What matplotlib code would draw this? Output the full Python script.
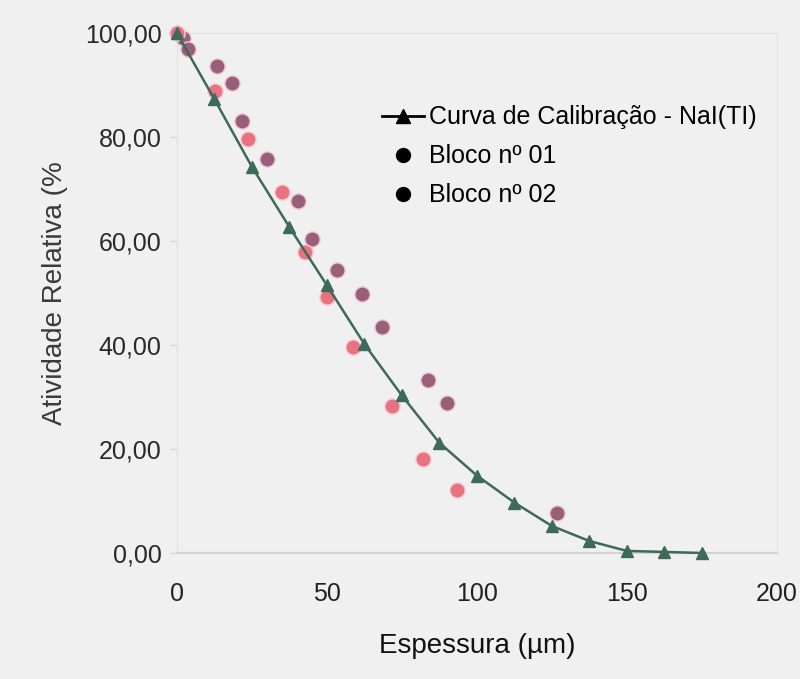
import matplotlib
matplotlib.use('Agg')
from matplotlib import pyplot as plt
from matplotlib.lines import Line2D

# Calibration curve (NaI(Tl))
curve_x = [0, 12.5, 25, 37.5, 50, 62.5, 75, 87.5, 100, 112.5, 125, 137.5, 150, 162.5, 175]
curve_y = [100.0, 87.3, 74.3, 62.7, 51.5, 40.2, 30.3, 21.2, 14.9, 9.7, 5.2, 2.3, 0.4, 0.2, 0.0]

# Block 01 (mauve dots)
b1_x = [0, 2, 3.7, 13.3, 18.3, 21.7, 30, 40.3, 45, 53.3, 61.7, 68.3, 83.7, 90, 126.7]
b1_y = [100.0, 99.0, 97.0, 93.6, 90.3, 83.0, 75.7, 67.6, 60.4, 54.4, 49.8, 43.4, 33.2, 28.8, 7.7]

# Block 02 (pink dots)
b2_x = [0, 12.7, 23.7, 35, 42.7, 50, 58.7, 71.7, 82, 93.3]
b2_y = [100.0, 88.8, 79.7, 69.5, 57.9, 49.2, 39.6, 28.2, 18.0, 12.2]

xticks = [0, 50, 100, 150, 200]
yticks = [0, 20, 40, 60, 80, 100]
ytick_labels = ['0,00', '20,00', '40,00', '60,00', '80,00', '100,00']

plt.rcParams['font.family'] = ['Liberation Sans', 'DejaVu Sans']

bg = '#f0f0f0'
fig = plt.figure(figsize=(8, 6.79), dpi=100, facecolor=bg)
ax = fig.add_axes([0.221, 0.1856, 0.75, 0.7658], facecolor=bg)

ax.scatter(b1_x, b1_y, s=120, color='#98607a', edgecolors='#f2c8d2', linewidths=1,
           zorder=3, clip_on=False)
ax.scatter(b2_x, b2_y, s=120, color='#e8727f', edgecolors='#f7cfd4', linewidths=1,
           zorder=3, clip_on=False)
ax.plot(curve_x, curve_y, color='#3e6a5a', linewidth=1.8, marker='^', markersize=9,
        zorder=4, clip_on=False)

ax.set_xlim(0, 200)
ax.set_ylim(0, 100)
ax.set_xticks(xticks)
ax.set_yticks(yticks)
ax.set_yticklabels(ytick_labels)

for s in ['top', 'right', 'left']:
    ax.spines[s].set_color('#e2e2e2')
ax.spines['bottom'].set_color('#d4d4d4')
ax.spines['bottom'].set_linewidth(1.5)
ax.tick_params(axis='y', length=5, color='#d0d0d0', labelsize=18, labelcolor='#2a2a2a', pad=6)
ax.tick_params(axis='x', length=0, labelsize=18, labelcolor='#222222', pad=21)

ax.set_xlabel('Espessura (µm)', fontsize=20, color='#111111', labelpad=19)
ax.set_ylabel('Atividade Relativa (%', fontsize=20, color='#3a3a3a', labelpad=12)

# Legend uses black markers like the source
handles = [
    Line2D([0], [0], color='black', linewidth=2, marker='^', markersize=10),
    Line2D([0], [0], color='black', linestyle='none', marker='o', markersize=10),
    Line2D([0], [0], color='black', linestyle='none', marker='o', markersize=10),
]
labels = ['Curva de Calibração - NaI(TI)', 'Bloco nº 01', 'Bloco nº 02']
ax.legend(handles, labels, loc='upper left', bbox_to_anchor=(0.325, 0.88),
          frameon=False, fontsize=18, handlelength=1.7, handletextpad=0.2,
          labelspacing=0.6, borderaxespad=0)

fig.savefig('out.png', dpi=100, facecolor=bg)
